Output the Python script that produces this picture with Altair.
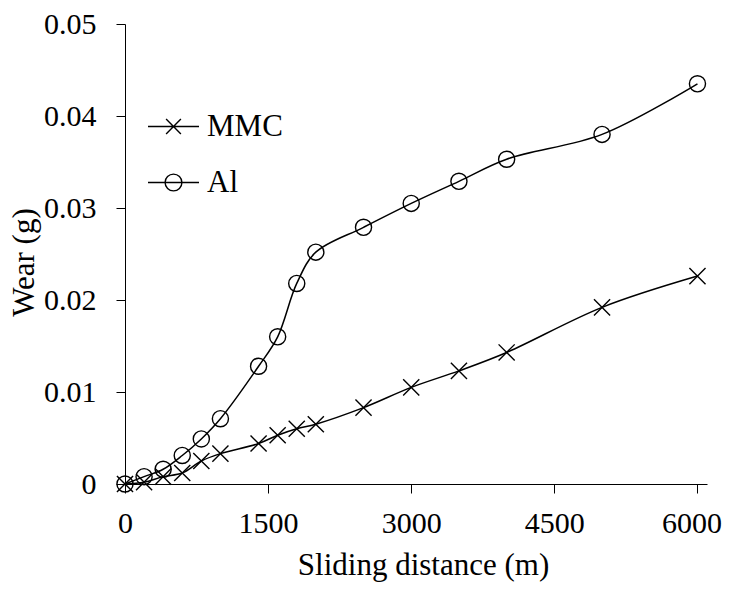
import altair as alt
import pandas as pd

# Data
distance = [0, 200, 400, 600, 800, 1000, 1400, 1600, 1800, 2000, 2500, 3000, 3500, 4000, 5000, 6000]
wear_mmc = [0, 0.0002, 0.0008, 0.0012, 0.0025, 0.0033, 0.0044, 0.0053, 0.0060, 0.0065,
            0.0083, 0.0105, 0.0123, 0.0143, 0.0192, 0.0226]
wear_al = [0, 0.0008, 0.0016, 0.0031, 0.0049, 0.0071, 0.0128, 0.0160, 0.0218, 0.0252,
           0.0279, 0.0305, 0.0329, 0.0353, 0.0380, 0.0435]
series_names = ["MMC", "Al"]
x_ticks = [0, 1500, 3000, 4500, 6000]
y_ticks = [0, 0.01, 0.02, 0.03, 0.04, 0.05]

rows = []
for d, v in zip(distance, wear_mmc):
    rows.append({"distance": d, "wear": v, "series": "MMC"})
for d, v in zip(distance, wear_al):
    rows.append({"distance": d, "wear": v, "series": "Al"})
df = pd.DataFrame(rows)

FONT = "Liberation Serif"

x_enc = alt.X("distance:Q",
              scale=alt.Scale(domain=[0, 6100], nice=False, zero=False),
              axis=alt.Axis(values=x_ticks, title="Sliding distance (m)", format="d",
                            labelPadding=15, tickSize=9, labelFlush=False,
                            labelOffset={"condition": {"test": "datum.value == 6000", "value": -6},
                                         "value": 0},
                            titleX=298, titleY=90, titleBaseline="alphabetic",
                            titleAlign="center", titleAnchor="start"))
y_enc = alt.Y("wear:Q",
              scale=alt.Scale(domain=[0, 0.05], nice=False),
              axis=alt.Axis(values=y_ticks, title="Wear (g)", format=".2~f",
                            labelPadding=20, tickSize=9, labelFlush=False,
                            titleX=-92, titleY=238, titleBaseline="alphabetic",
                            titleAlign="center", titleAnchor="start"))

x_path = "M-1,-1L1,1M-1,1L1,-1"
leg_x = "M-1,0L1,0M-0.29,-0.29L0.29,0.29M-0.29,0.29L0.29,-0.29"
leg_o = "M-1,0L1,0M0.33,0A0.33,0.33,0,1,1,-0.33,0A0.33,0.33,0,1,1,0.33,0"

base = alt.Chart(df)

lines = base.mark_line(color="black", strokeWidth=1.5, interpolate="catmull-rom").encode(
    x=x_enc, y=y_enc, detail="series:N"
)

points = base.mark_point(filled=False, color="black", strokeWidth=1.4, size=260, opacity=1).encode(
    x=x_enc, y=y_enc,
    shape=alt.Shape("series:N",
                    scale=alt.Scale(domain=series_names, range=[x_path, "circle"]),
                    legend=None),
)

legend_layer = base.transform_filter("false").mark_point(
    filled=False, color="black", strokeWidth=1.4, opacity=1
).encode(
    x=x_enc, y=y_enc,
    shape=alt.Shape("series:N",
                    scale=alt.Scale(domain=series_names, range=[leg_x, leg_o]),
                    legend=alt.Legend(title=None, orient="none", legendX=22, legendY=76,
                                      symbolSize=2601, symbolStrokeWidth=1.4,
                                      symbolStrokeColor="black",
                                      labelFont=FONT, labelFontSize=31, labelColor="black",
                                      labelOffset=7, rowPadding=14, padding=0, offset=0)),
)

chart = alt.layer(lines, points, legend_layer).resolve_scale(shape="independent").properties(
    width=582, height=460,
    autosize=alt.AutoSizeParams(type="none"),
    padding={"left": 117, "top": 16, "right": 15, "bottom": 98},
    background="white",
).configure_view(stroke=None).configure_axis(
    labelFont=FONT, labelFontSize=30, labelColor="black",
    titleFont=FONT, titleFontSize=31, titleColor="black", titleFontWeight="normal",
    domainColor="black", domainWidth=1, tickColor="black", tickWidth=1, grid=False,
)

chart.save("out.html", embed_options={"renderer": "svg", "actions": False})
